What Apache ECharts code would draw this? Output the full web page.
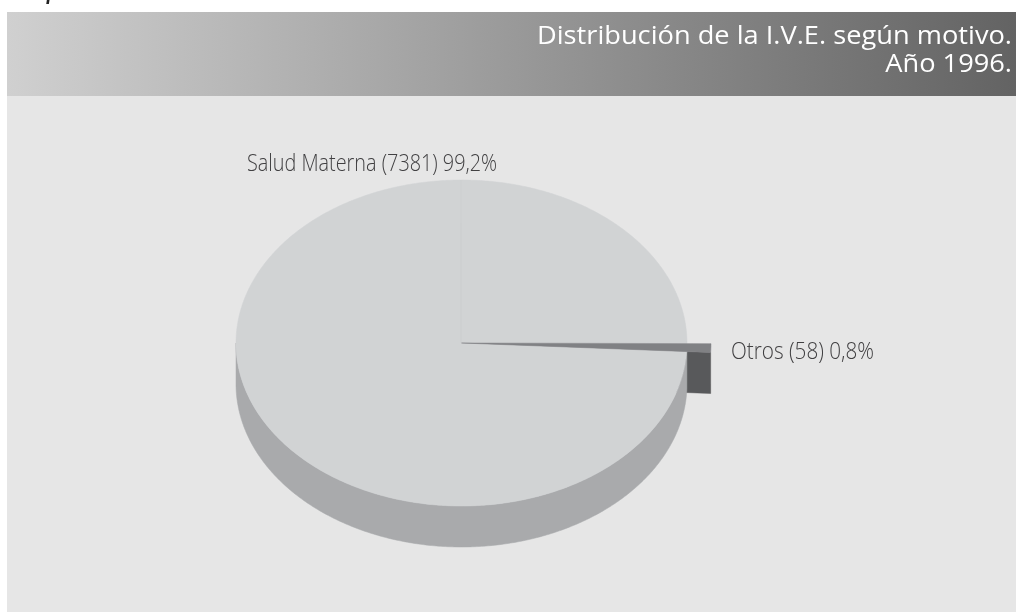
<!DOCTYPE html>
<html><head><meta charset="utf-8">
<style>html,body{margin:0;padding:0;background:#fff}#c{width:1016px;height:612px}</style>
<script src="https://cdn.jsdelivr.net/npm/echarts@6/dist/echarts.min.js"></script>
</head><body><div id="c"></div>
<script>
const categories = ['Otros', 'Salud Materna'];
const values = [58, 7381];
const percentLabels = ['0,8%', '99,2%'];
const titleLines = ['Distribución de la I.V.E. según motivo.', 'Año 1996.'];

const total = values.reduce((a, b) => a + b, 0);
const CX = 461.5, CY = 343, RX = 225.5, RY = 163, DEPTH = 41, PULL = 249.5 / 225.5;
const START = 0.2 * Math.PI / 180;
const TEXT_FONT = '"Open Sans"';

function arc(a0, a1, k, dy) {
  const n = Math.max(2, Math.ceil(Math.abs(a1 - a0) / 0.01));
  const pts = [];
  for (let i = 0; i <= n; i++) {
    const t = a0 + (a1 - a0) * i / n;
    pts.push([CX + RX * k * Math.cos(t), CY + dy + RY * k * Math.sin(t)]);
  }
  return pts;
}
function poly(points, fill, z2) {
  return { type: 'polygon', z2, shape: { points }, style: { fill, stroke: fill, lineWidth: 0.5 } };
}
function renderSlice(params, api) {
  const i = params.dataIndex;
  let before = 0;
  for (let j = 0; j < i; j++) before += values[j];
  const a0 = START + before / total * 2 * Math.PI;
  const a1 = a0 + api.value(0) / total * 2 * Math.PI;
  const children = [];
  if (i === 0) {
    const end = [CX + RX * PULL * Math.cos(a1), CY + RY * PULL * Math.sin(a1)];
    children.push(poly([[CX, CY], end, [end[0], end[1] + DEPTH], [CX, CY + DEPTH]], '#58595b', 1));
    children.push(poly([[CX, CY]].concat(arc(a0, a1, PULL, 0)), '#808184', 5));
  } else {
    const lo = Math.max(a0, 0), hi = Math.PI;
    const upper = arc(lo - 0.02, hi, 1, 0);
    const lower = arc(hi, lo - 0.02, 1, DEPTH);
    children.push(poly(upper.concat(lower), '#a9aaac', 2));
    children.push(poly([[CX, CY]].concat(arc(a0, a1, 1, 0)), '#d1d3d4', 4));
    children.push({ type: 'line', z2: 4.5, shape: { x1: 461, y1: CY - 120, x2: 461, y2: CY }, style: { stroke: '#cbcdce', lineWidth: 1 } });
    children.push({ type: 'line', z2: 4.5, shape: { x1: 461, y1: CY - RY, x2: 461, y2: CY - 120 }, style: { stroke: '#cdcfd0', lineWidth: 1 } });
  }
  return { type: 'group', children };
}
function stretchedText(text, right, left, y, sx, font, fill) {
  const anchorX = right != null ? right : left;
  return { type: 'text', z: 1, x: anchorX, y, scaleX: sx, scaleY: 1,
    style: { x: 0, y: 0, text, textAlign: right != null ? 'right' : 'left', textVerticalAlign: 'middle', fill, font } };
}

const chart = echarts.init(document.getElementById('c'), null, { renderer: 'canvas' });
chart.setOption({
  animation: false,
  backgroundColor: '#ffffff',
  graphic: [
    { type: 'rect', z: 0, shape: { x: 7, y: 96, width: 1009, height: 516 }, style: { fill: '#e6e6e6' } },
    { type: 'rect', z: 0, shape: { x: 7, y: 12, width: 1009, height: 84 }, style: { fill: {
      type: 'linear', x: 0, y: 0, x2: 1, y2: 0,
      colorStops: [{ offset: 0, color: '#d0d0d0' }, { offset: 1, color: '#636363' }] } } },
    { type: 'text', z: 1, style: { x: 14, y: 4, text: 'Gráfico 1.', textVerticalAlign: 'bottom', fill: '#222', font: 'italic bold 20px "Liberation Serif"' } },
    stretchedText(titleLines[0], 1012, null, 36.5, 1.047, '400 26px ' + TEXT_FONT, '#ffffff'),
    stretchedText(titleLines[1], 1012, null, 64.5, 1.047, '400 26px ' + TEXT_FONT, '#ffffff'),
    stretchedText(`${categories[1]} (${values[1]}) ${percentLabels[1]}`, null, 247, 164, 0.862, '300 23px ' + TEXT_FONT, '#414042'),
    stretchedText(`${categories[0]} (${values[0]}) ${percentLabels[0]}`, null, 731, 352, 0.9, '300 23px ' + TEXT_FONT, '#414042')
  ],
  series: [{
    type: 'custom',
    coordinateSystem: 'none',
    silent: true,
    renderItem: renderSlice,
    data: values.map((v, i) => ({ name: categories[i], value: [v] }))
  }]
});
</script></body></html>
